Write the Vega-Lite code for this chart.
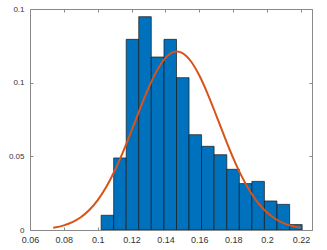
{
  "$schema": "https://vega.github.io/schema/vega-lite/v6.json",
  "autosize": {"type": "none"},
  "width": 282,
  "height": 221,
  "padding": {"left": 30, "top": 9, "right": 15, "bottom": 20},
  "background": "white",
  "config": {
    "view": {"stroke": null},
    "axis": {
      "grid": false,
      "domainColor": "#8a8a8a",
      "domainWidth": 1,
      "tickColor": "#8a8a8a",
      "tickWidth": 1,
      "labelFont": "Liberation Sans",
      "labelColor": "#333333",
      "title": null
    }
  },
  "datasets": {
    "bins": [
      {"x0": 0.1020, "x1": 0.1094, "p": 0.0100},
      {"x0": 0.1094, "x1": 0.1168, "p": 0.0489},
      {"x0": 0.1168, "x1": 0.1242, "p": 0.1294},
      {"x0": 0.1242, "x1": 0.1316, "p": 0.1448},
      {"x0": 0.1316, "x1": 0.1391, "p": 0.1174},
      {"x0": 0.1391, "x1": 0.1465, "p": 0.1294},
      {"x0": 0.1465, "x1": 0.1539, "p": 0.1034},
      {"x0": 0.1539, "x1": 0.1613, "p": 0.0647},
      {"x0": 0.1613, "x1": 0.1687, "p": 0.0568},
      {"x0": 0.1687, "x1": 0.1762, "p": 0.0511},
      {"x0": 0.1762, "x1": 0.1836, "p": 0.0412},
      {"x0": 0.1836, "x1": 0.1910, "p": 0.0315},
      {"x0": 0.1910, "x1": 0.1984, "p": 0.0330},
      {"x0": 0.1984, "x1": 0.2058, "p": 0.0197},
      {"x0": 0.2058, "x1": 0.2133, "p": 0.0174},
      {"x0": 0.2133, "x1": 0.2207, "p": 0.0037}
    ],
    "fit": [
      {"x": 0.0737, "y": 0.00154},
      {"x": 0.080, "y": 0.00316},
      {"x": 0.085, "y": 0.00535},
      {"x": 0.090, "y": 0.00869},
      {"x": 0.095, "y": 0.01356},
      {"x": 0.100, "y": 0.02028},
      {"x": 0.105, "y": 0.02915},
      {"x": 0.110, "y": 0.04019},
      {"x": 0.115, "y": 0.05319},
      {"x": 0.120, "y": 0.06757},
      {"x": 0.125, "y": 0.08240},
      {"x": 0.130, "y": 0.09643},
      {"x": 0.135, "y": 0.10834},
      {"x": 0.140, "y": 0.11682},
      {"x": 0.145, "y": 0.12091},
      {"x": 0.1467, "y": 0.12120},
      {"x": 0.150, "y": 0.12012},
      {"x": 0.155, "y": 0.11455},
      {"x": 0.160, "y": 0.10484},
      {"x": 0.165, "y": 0.09211},
      {"x": 0.170, "y": 0.07767},
      {"x": 0.175, "y": 0.06287},
      {"x": 0.180, "y": 0.04884},
      {"x": 0.185, "y": 0.03642},
      {"x": 0.190, "y": 0.02607},
      {"x": 0.195, "y": 0.01791},
      {"x": 0.200, "y": 0.01181},
      {"x": 0.205, "y": 0.00748},
      {"x": 0.210, "y": 0.00454},
      {"x": 0.215, "y": 0.00265},
      {"x": 0.2197, "y": 0.00154}
    ]
  },
  "layer": [
    {
      "data": {"name": "bins"},
      "mark": {"type": "rect", "fill": "#0072BD", "stroke": "#1a1a1a", "strokeWidth": 0.7, "clip": true},
      "encoding": {
        "x": {
          "field": "x0", "type": "quantitative",
          "scale": {"domain": [0.06, 0.2265], "nice": false, "zero": false},
          "axis": {"orient": "bottom", "values": [0.06, 0.08, 0.1, 0.12, 0.14, 0.16, 0.18, 0.2, 0.22], "format": "~g", "tickSize": -3, "labelPadding": 8, "labelFontSize": 9, "labelFlush": false}
        },
        "x2": {"field": "x1"},
        "y": {
          "field": "p", "type": "quantitative",
          "scale": {"domain": [0, 0.15], "nice": false},
          "axis": {"orient": "left", "values": [0, 0.05, 0.1, 0.15], "format": "~g", "tickSize": -3, "labelPadding": 9, "labelFontSize": 8, "labelFlush": false}
        },
        "y2": {"datum": 0}
      }
    },
    {
      "data": {"name": "fit"},
      "mark": {"type": "line", "color": "#D95319", "strokeWidth": 2, "interpolate": "monotone"},
      "encoding": {
        "x": {
          "field": "x", "type": "quantitative",
          "axis": {"orient": "top", "values": [0.06, 0.08, 0.1, 0.12, 0.14, 0.16, 0.18, 0.2, 0.22], "labels": false, "tickSize": -3}
        },
        "y": {
          "field": "y", "type": "quantitative",
          "axis": {"orient": "right", "values": [0, 0.05, 0.1, 0.15], "labels": false, "tickSize": -3}
        }
      }
    }
  ]
}
